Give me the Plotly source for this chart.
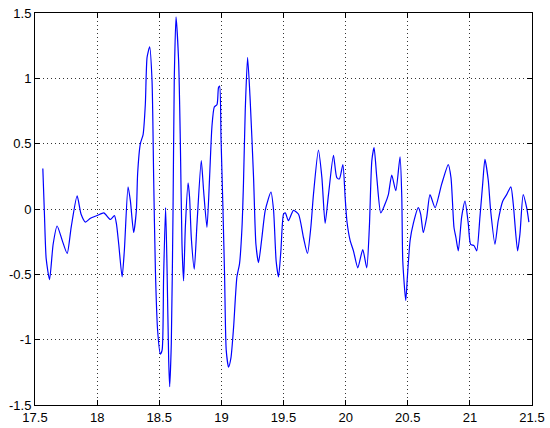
import plotly.graph_objects as go

# Sinal (tempo, amplitude)
t = [17.563, 17.576, 17.590, 17.617, 17.646, 17.678, 17.719, 17.759, 17.791, 17.839,
     17.871, 17.906, 17.946, 18.000, 18.053, 18.067, 18.107, 18.139, 18.155, 18.174,
     18.201, 18.219, 18.249, 18.268, 18.294, 18.316, 18.326, 18.348, 18.370, 18.388,
     18.402, 18.423, 18.442, 18.455, 18.469, 18.487, 18.509, 18.523, 18.535, 18.551,
     18.563, 18.576, 18.584, 18.597, 18.611, 18.621, 18.635, 18.656, 18.670, 18.683,
     18.696, 18.710, 18.732, 18.744, 18.758, 18.782, 18.804, 18.838, 18.857, 18.884,
     18.905, 18.924, 18.943, 18.965, 18.977, 18.986, 18.997, 19.013, 19.026, 19.039,
     19.058, 19.077, 19.098, 19.125, 19.146, 19.166, 19.178, 19.192, 19.211, 19.232,
     19.259, 19.278, 19.299, 19.326, 19.353, 19.399, 19.420, 19.441, 19.460, 19.479,
     19.500, 19.514, 19.540, 19.580, 19.621, 19.661, 19.693, 19.720, 19.741, 19.781,
     19.809, 19.835, 19.862, 19.902, 19.929, 19.950, 19.978, 19.996, 20.010, 20.036,
     20.063, 20.098, 20.138, 20.170, 20.191, 20.211, 20.229, 20.251, 20.283, 20.318,
     20.344, 20.371, 20.404, 20.438, 20.452, 20.460, 20.484, 20.497, 20.519, 20.545,
     20.585, 20.604, 20.625, 20.653, 20.679, 20.720, 20.773, 20.826, 20.848, 20.872,
     20.888, 20.907, 20.934, 20.961, 20.987, 21.006, 21.033, 21.055, 21.081, 21.103,
     21.121, 21.148, 21.167, 21.202, 21.228, 21.264, 21.296, 21.330, 21.349, 21.384,
     21.403, 21.429, 21.457, 21.475]
amp = [0.31, -0.04, -0.38, -0.54, -0.27, -0.13, -0.24, -0.34, -0.14, 0.10,
       -0.04, -0.10, -0.07, -0.05, -0.03, -0.04, -0.08, -0.05, -0.11, -0.27,
       -0.52, -0.32, 0.17, 0.06, -0.18, -0.01, 0.27, 0.50, 0.57, 0.80,
       1.16, 1.24, 0.98, 0.24, -0.47, -0.93, -1.11, -1.08, -0.52, 0.01,
       -0.47, -1.16, -1.36, -1.03, -0.01, 1.00, 1.47, 1.13, 0.50, -0.27,
       -0.55, -0.14, 0.20, 0.09, -0.22, -0.46, -0.11, 0.37, 0.14, -0.14,
       0.24, 0.63, 0.78, 0.80, 0.93, 0.94, 0.55, -0.01, -0.52, -1.08,
       -1.21, -1.14, -0.91, -0.52, -0.42, -0.14, 0.20, 0.75, 1.16, 0.83,
       0.24, -0.27, -0.41, -0.22, -0.01, 0.13, -0.01, -0.40, -0.52, -0.32,
       -0.04, -0.03, -0.09, -0.01, -0.04, -0.22, -0.34, -0.14, 0.11, 0.45,
       0.24, -0.11, 0.11, 0.41, 0.24, 0.23, 0.34, 0.09, -0.09, -0.24,
       -0.32, -0.45, -0.31, -0.45, -0.14, 0.37, 0.47, 0.24, -0.03, 0.04,
       0.11, 0.26, 0.14, 0.40, 0.09, -0.40, -0.70, -0.52, -0.24, -0.11,
       0.01, -0.04, -0.18, -0.06, 0.11, 0.01, 0.19, 0.34, 0.24, -0.14,
       -0.22, -0.32, -0.06, 0.06, -0.11, -0.27, -0.28, -0.32, -0.06, 0.19,
       0.38, 0.22, -0.01, -0.27, -0.09, 0.06, 0.11, 0.17, 0.04, -0.32,
       -0.19, 0.11, 0.01, -0.10]

x_ticks = [17.5, 18, 18.5, 19, 19.5, 20, 20.5, 21, 21.5]
x_labels = ['17.5', '18', '18.5', '19', '19.5', '20', '20.5', '21', '21.5']
y_ticks = [-1.5, -1, -0.5, 0, 0.5, 1, 1.5]
y_labels = ['-1.5', '-1', '-0.5', '0', '0.5', '1', '1.5']

fig = go.Figure(go.Scatter(
    x=t, y=amp, mode='lines',
    line=dict(color='#0000ff', width=1.2, shape='spline', smoothing=0.6),
    showlegend=False
))

eixo = dict(
    showline=True, linecolor='black', linewidth=1, mirror='ticks',
    ticks='inside', ticklen=5, tickcolor='black',
    showgrid=True, gridcolor='#333333', gridwidth=1, griddash='1px,3px',
    zeroline=False, automargin=False,
    tickfont=dict(family='Liberation Sans, Arial', size=13, color='black'),
)

fig.update_xaxes(range=[17.5, 21.5], tickvals=x_ticks, ticktext=x_labels, **eixo)
fig.update_yaxes(range=[-1.5, 1.5], tickvals=y_ticks, ticktext=y_labels, **eixo)

fig.update_layout(
    width=550, height=428,
    margin=dict(l=35, r=18, t=13, b=23),
    paper_bgcolor='white', plot_bgcolor='white',
)

# tira a margem padrão do <body> para a figura ficar encostada no canto
fig.write_html("out.html", config={'displayModeBar': False},
               post_script="document.body.style.margin='0';")
